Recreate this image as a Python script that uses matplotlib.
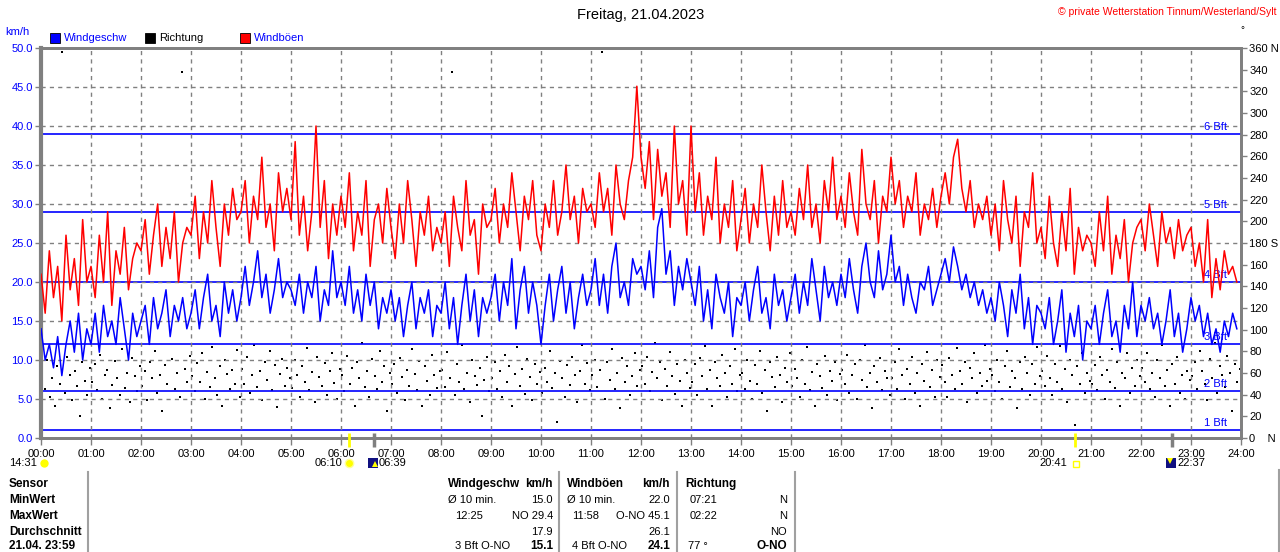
import numpy as np
import matplotlib
matplotlib.use('Agg')
import matplotlib.pyplot as plt
from matplotlib.patches import Rectangle
from matplotlib.lines import Line2D

plt.rcParams['font.family'] = ['Liberation Sans', 'DejaVu Sans']

# ---------------- data ----------------
hour_labels = ["00:00", "01:00", "02:00", "03:00", "04:00", "05:00", "06:00", "07:00",
               "08:00", "09:00", "10:00", "11:00", "12:00", "13:00", "14:00", "15:00",
               "16:00", "17:00", "18:00", "19:00", "20:00", "21:00", "22:00", "23:00", "24:00"]

# wind speed km/h, 5-minute samples, one row per hour
windgeschw = [
    [14, 10, 12, 9, 13, 8, 12, 15, 11, 16, 10, 14],
    [12, 16, 11, 17, 13, 15, 12, 18, 14, 10, 16, 13],
    [15, 17, 12, 18, 14, 16, 19, 13, 17, 15, 18, 14],
    [16, 19, 14, 18, 21, 15, 17, 13, 20, 16, 19, 15],
    [18, 22, 17, 20, 24, 18, 21, 16, 19, 23, 18, 20],
    [19, 17, 21, 16, 20, 18, 22, 15, 19, 17, 24, 18],
    [20, 17, 22, 16, 19, 15, 21, 17, 20, 14, 18, 16],
    [19, 15, 18, 13, 17, 20, 14, 18, 16, 19, 13, 17],
    [16, 20, 14, 18, 12, 17, 21, 15, 19, 13, 18, 16],
    [18, 21, 15, 20, 17, 23, 14, 19, 22, 16, 20, 17],
    [12, 17, 21, 15, 19, 22, 16, 20, 14, 18, 21, 17],
    [19, 23, 17, 21, 16, 22, 25, 18, 20, 17, 23, 21],
    [22, 19, 24, 18, 27, 29.4, 21, 24, 17, 22, 19, 23],
    [20, 17, 22, 15, 19, 14, 21, 18, 16, 20, 13, 18],
    [17, 20, 15, 19, 22, 16, 18, 14, 21, 17, 19, 15],
    [18, 21, 16, 20, 17, 23, 19, 15, 22, 18, 20, 17],
    [21, 18, 23, 19, 16, 22, 25, 20, 18, 24, 19, 21],
    [26, 20, 22, 17, 21, 18, 16, 20, 19, 22, 17, 19],
    [21, 23, 20, 24.5, 22, 19, 21, 18, 20, 17, 19, 16],
    [18, 15, 20, 17, 13, 19, 16, 21, 14, 18, 12, 17],
    [16, 14, 18, 12, 15, 19, 11, 16, 13, 17, 10, 15],
    [14, 17, 12, 16, 19, 13, 15, 11, 17, 14, 20, 13],
    [17, 15, 18, 14, 16, 12, 15, 19, 13, 16, 11, 14],
    [18, 15, 17, 13, 16, 12, 14, 11, 15, 13, 16, 14],
]

# wind gusts km/h, 5-minute samples, one row per hour
windboeen = [
    [21, 16, 24, 18, 22, 15, 26, 19, 23, 17, 28, 20],
    [22, 18, 26, 20, 29, 17, 24, 21, 27, 19, 23, 25],
    [24, 28, 21, 26, 30, 22, 27, 23, 29, 20, 25, 27],
    [26, 31, 23, 29, 25, 33, 27, 22, 30, 26, 32, 28],
    [29, 33, 25, 31, 28, 36, 27, 30, 24, 34, 29, 32],
    [28, 38, 26, 31, 24, 29, 40, 27, 33, 23, 30, 26],
    [31, 27, 34, 24, 29, 26, 33, 22, 28, 30, 25, 32],
    [27, 23, 30, 25, 33, 28, 22, 29, 26, 31, 24, 27],
    [25, 29, 22, 31, 27, 24, 33, 26, 28, 21, 30, 27],
    [28, 32, 25, 30, 27, 34, 29, 24, 31, 28, 33, 26],
    [24, 30, 27, 33, 26, 29, 35, 28, 31, 25, 32, 29],
    [30, 27, 34, 29, 32, 26, 35, 30, 28, 33, 36, 45.1],
    [36, 32, 38, 28, 37, 31, 34, 27, 40, 30, 33, 26],
    [40, 29, 34, 26, 31, 28, 36, 25, 30, 27, 33, 24],
    [28, 32, 25, 30, 27, 35, 29, 24, 31, 26, 33, 27],
    [29, 26, 32, 28, 35, 27, 30, 25, 33, 29, 36, 28],
    [31, 27, 34, 29, 26, 37, 30, 28, 33, 25, 31, 29],
    [36, 30, 33, 27, 31, 29, 34, 26, 30, 28, 32, 27],
    [31, 34, 30, 36, 38.3, 32, 29, 33, 27, 30, 28, 31],
    [26, 30, 24, 33, 28, 25, 31, 22, 29, 27, 34, 25],
    [27, 23, 31, 25, 22, 29, 24, 32, 21, 27, 24, 26],
    [25, 22, 29, 24, 31, 21, 26, 23, 28, 20, 25, 27],
    [28, 24, 30, 26, 22, 29, 25, 27, 23, 28, 24, 26],
    [27, 22, 25, 20, 28, 18, 23, 19, 24, 21, 22, 20],
]

# wind direction in degrees, 3-minute samples, one row per hour
richtung = [
    [60, 45, 72, 38, 55, 30, 66, 50, 356, 42, 75, 58, 35, 62, 48, 20, 70, 53, 40, 65],
    [52, 68, 44, 77, 36, 58, 63, 28, 49, 71, 55, 40, 82, 46, 60, 33, 74, 57, 43, 66],
    [48, 62, 35, 70, 55, 80, 42, 58, 25, 67, 50, 360, 73, 45, 60, 38, 338, 64, 52, 76],
    [57, 43, 69, 52, 78, 36, 61, 47, 84, 55, 40, 66, 30, 72, 59, 45, 63, 50, 81, 38],
    [64, 50, 75, 42, 58, 86, 47, 62, 35, 70, 54, 80, 44, 67, 29, 59, 73, 48, 65, 55],
    [46, 72, 58, 38, 66, 52, 83, 44, 61, 33, 75, 56, 48, 69, 40, 62, 78, 51, 36, 64],
    [58, 43, 76, 50, 65, 30, 70, 55, 88, 47, 62, 38, 73, 57, 45, 80, 52, 66, 25, 60],
    [50, 68, 42, 74, 56, 35, 63, 48, 82, 59, 44, 71, 30, 66, 53, 40, 77, 58, 46, 62],
    [63, 47, 79, 55, 338, 40, 68, 52, 86, 45, 60, 33, 72, 57, 49, 65, 20, 54, 75, 43],
    [55, 70, 45, 62, 38, 77, 52, 66, 30, 59, 84, 48, 64, 41, 73, 56, 35, 68, 50, 61],
    [42, 65, 52, 80, 46, 60, 15, 71, 55, 38, 67, 49, 75, 58, 33, 62, 86, 50, 69, 44],
    [58, 72, 47, 63, 356, 36, 70, 54, 82, 45, 60, 28, 74, 52, 66, 40, 57, 78, 48, 63],
    [66, 50, 75, 43, 61, 88, 55, 70, 35, 64, 48, 79, 57, 41, 68, 53, 30, 72, 60, 46],
    [52, 68, 40, 74, 57, 85, 45, 63, 30, 70, 55, 48, 77, 60, 38, 66, 50, 82, 43, 58],
    [60, 45, 72, 53, 36, 67, 50, 80, 42, 63, 25, 70, 56, 47, 75, 58, 33, 65, 52, 78],
    [48, 64, 55, 38, 72, 50, 84, 44, 61, 30, 68, 57, 46, 76, 40, 62, 53, 70, 35, 59],
    [63, 50, 77, 42, 58, 68, 36, 72, 54, 86, 47, 60, 28, 66, 52, 74, 44, 62, 55, 40],
    [55, 70, 45, 82, 58, 36, 64, 50, 75, 42, 60, 30, 68, 53, 79, 47, 63, 38, 72, 56],
    [67, 52, 38, 74, 58, 45, 83, 62, 50, 70, 33, 65, 55, 78, 42, 60, 48, 86, 53, 64],
    [58, 43, 72, 52, 36, 66, 80, 47, 62, 55, 28, 70, 45, 75, 60, 40, 68, 50, 84, 57],
    [62, 48, 76, 55, 40, 68, 52, 85, 45, 64, 33, 72, 58, 12, 66, 50, 78, 42, 60, 53],
    [50, 67, 44, 75, 58, 36, 63, 52, 82, 46, 70, 30, 60, 55, 78, 42, 65, 48, 72, 57],
    [65, 52, 78, 45, 60, 38, 72, 55, 86, 48, 63, 30, 68, 50, 75, 42, 58, 36, 62, 54],
    [57, 70, 45, 80, 62, 50, 35, 73, 55, 88, 42, 66, 58, 47, 76, 60, 25, 68, 52, 64],
]

bft_values = [1, 6, 12, 20, 29, 39]
bft_labels = ["1 Bft", "2 Bft", "3 Bft", "4 Bft", "5 Bft", "6 Bft"]

left_ticks = [0, 5, 10, 15, 20, 25, 30, 35, 40, 45, 50]
right_ticks = [0, 20, 40, 60, 80, 100, 120, 140, 160, 180, 200, 220, 240, 260, 280, 300, 320, 340, 360]
right_labels = ["0    N", "20", "40", "60", "80", "100", "120", "140", "160", "180 S",
                "200", "220", "240", "260", "280", "300", "320", "340", "360 N"]

sun_events = [("06:10", 6 + 10 / 60, "sunrise"), ("06:39", 6 + 39 / 60, "moonrise"),
              ("20:41", 20 + 41 / 60, "sunset"), ("22:37", 22 + 37 / 60, "moonset")]

table_rows = ["Sensor", "MinWert", "MaxWert", "Durchschnitt", "21.04. 23:59"]

# ---------------- figure ----------------
W, H = 1280, 552
fig = plt.figure(figsize=(W / 100, H / 100), dpi=100)
fig.patch.set_facecolor('white')


def fx(x):
    return x / W


def fy(y):
    return 1 - y / H


ax = fig.add_axes([fx(41), fy(438), 1200 / W, 390 / H])
ax2 = ax.twinx()
ax.set_zorder(ax2.get_zorder() + 1)
ax.patch.set_visible(False)

GRAY = '#808080'

speed = np.array(windgeschw, dtype=float).ravel()
gust = np.array(windboeen, dtype=float).ravel()
direc = np.array(richtung, dtype=float).ravel()
t_line = np.arange(len(speed)) / 12.0
t_dir = np.arange(len(direc)) / 20.0 + 0.02

ax.set_xlim(0, 24)
ax.set_ylim(0, 50)
ax2.set_ylim(0, 360)

# grid
ax.set_xticks(range(25))
ax.set_yticks(left_ticks)
ax.grid(True, color=GRAY, linestyle=(0, (3, 3)), linewidth=1)

# Beaufort lines
for v, lab in zip(bft_values, bft_labels):
    ax.axhline(v, color='#0000ff', linewidth=1.2, zorder=1.5)
    ax.annotate(lab, (23.72, v), xytext=(0, 1.5), textcoords='offset points',
                ha='right', va='bottom', color='#0000ff', fontsize=8, zorder=1.6)

# direction dots
ax2.scatter(t_dir, direc, s=4, marker='s', color='black', linewidths=0, zorder=2)

# lines
ax.plot(t_line, gust, color='#ff0000', linewidth=1.1, zorder=3)
ax.plot(t_line, speed, color='#0000ff', linewidth=1.1, zorder=4)

# spines
for a in (ax, ax2):
    for s in a.spines.values():
        s.set_color(GRAY)
        s.set_linewidth(2)
ax.spines['left'].set_linewidth(3)

ax.set_xticklabels(hour_labels)
ax.set_yticklabels([f"{v:.1f}" for v in left_ticks])
ax.tick_params(axis='x', colors=GRAY, labelcolor='black', labelsize=8, length=5, width=1, pad=3)
ax.tick_params(axis='y', colors=GRAY, labelcolor='#0000ff', labelsize=8, length=4, width=1, pad=2)
ax2.set_yticks(right_ticks)
ax2.set_yticklabels(right_labels)
ax2.tick_params(axis='y', colors=GRAY, labelcolor='black', labelsize=8, length=4, width=1, pad=2)
for lab in ax2.get_yticklabels():
    lab.set_horizontalalignment('left')

# sun / moon markers on time axis
for txt, t, kind in sun_events:
    col = 'yellow' if kind.startswith('sun') else GRAY
    ax.plot([t, t], [0.6, -1.2], color=col, linewidth=2.5 if col == GRAY else 2,
            clip_on=False, zorder=6, solid_capstyle='butt')

# event labels below the axis
fig.text(fx(37), fy(463), "14:31", ha='right', va='center', fontsize=8)
fig.add_artist(Line2D([fx(44)], [fy(463)], marker='o', markersize=6, color='yellow',
                      markeredgewidth=0, transform=fig.transFigure))
fig.text(fx(342), fy(463), "06:10", ha='right', va='center', fontsize=8)
fig.add_artist(Line2D([fx(349)], [fy(463)], marker='o', markersize=6, color='yellow',
                      markeredgecolor='#ffff99', markeredgewidth=1, transform=fig.transFigure))
fig.add_artist(Rectangle((fx(368), fy(468)), 10 / W, 10 / H, facecolor='#101080',
                         edgecolor='none', transform=fig.transFigure))
fig.add_artist(Line2D([fx(375)], [fy(464)], marker='^', markersize=4, color='yellow',
                      markeredgewidth=0, transform=fig.transFigure))
fig.text(fx(379), fy(463), "06:39", ha='left', va='center', fontsize=8)
fig.text(fx(1067), fy(463), "20:41", ha='right', va='center', fontsize=8)
fig.add_artist(Rectangle((fx(1073), fy(467)), 6 / W, 6 / H, facecolor='none',
                         edgecolor='yellow', linewidth=1, transform=fig.transFigure))
fig.add_artist(Rectangle((fx(1166), fy(468)), 10 / W, 10 / H, facecolor='#101080',
                         edgecolor='none', transform=fig.transFigure))
fig.add_artist(Line2D([fx(1170)], [fy(461)], marker='v', markersize=4, color='yellow',
                      markeredgewidth=0, transform=fig.transFigure))
fig.text(fx(1177), fy(463), "22:37", ha='left', va='center', fontsize=8)

# titles
fig.text(fx(641), fy(15), "Freitag, 21.04.2023", ha='center', va='center', fontsize=10.5)
fig.text(fx(1276), fy(12), "\u00a9 private Wetterstation Tinnum/Westerland/Sylt", ha='right',
         va='center', fontsize=7.5, color='red')
fig.text(fx(1242), fy(30), "\u00b0", ha='center', va='center', fontsize=7)
fig.text(fx(5), fy(32), "km/h", ha='left', va='center', fontsize=8, color='#0000ff')

# legend
legend_items = [("Windgeschw", '#0000ff', 50, '#0000ff'), ("Richtung", 'black', 145, 'black'),
                ("Windböen", '#ff0000', 240, '#0000ff')]
for name, col, x0, tcol in legend_items:
    fig.add_artist(Rectangle((fx(x0), fy(43)), 10 / W, 10 / H, facecolor=col,
                             edgecolor='black', linewidth=0.6, transform=fig.transFigure))
    fig.text(fx(x0 + 14), fy(38), name, ha='left', va='center', fontsize=8, color=tcol)

# table
row_y = [484, 500, 516, 532, 546]
for y, lab in zip(row_y, table_rows):
    fig.text(fx(9), fy(y), lab, ha='left', va='center', fontsize=8.5, fontweight='bold')

for xs, y0 in [(88, 472), (559, 472), (677, 472), (795, 472), (1279, 470)]:
    fig.add_artist(Line2D([fx(xs), fx(xs)], [fy(y0), fy(552)], color='#a0a0a0',
                          linewidth=1.5, transform=fig.transFigure))

cells = [
    # (x, row, text, align, bold)
    (448, 0, "Windgeschw", 'left', True), (553, 0, "km/h", 'right', True),
    (448, 1, "\u00d8 10 min.", 'left', False), (553, 1, "15.0", 'right', False),
    (455, 2, "12:25", 'left', False), (553, 2, "NO 29.4", 'right', False),
    (553, 3, "17.9", 'right', False),
    (455, 4, "3 Bft O-NO", 'left', False), (553, 4, "15.1", 'right', True),
    (567, 0, "Windböen", 'left', True), (670, 0, "km/h", 'right', True),
    (567, 1, "\u00d8 10 min.", 'left', False), (670, 1, "22.0", 'right', False),
    (572, 2, "11:58", 'left', False), (670, 2, "O-NO 45.1", 'right', False),
    (670, 3, "26.1", 'right', False),
    (572, 4, "4 Bft O-NO", 'left', False), (670, 4, "24.1", 'right', True),
    (685, 0, "Richtung", 'left', True),
    (690, 1, "07:21", 'left', False), (787, 1, "N", 'right', False),
    (690, 2, "02:22", 'left', False), (787, 2, "N", 'right', False),
    (787, 3, "NO", 'right', False),
    (688, 4, "77 \u00b0", 'left', False), (787, 4, "O-NO", 'right', True),
]
for x, r, txt, al, b in cells:
    fig.text(fx(x), fy(row_y[r]), txt, ha=al, va='center', fontsize=8.5 if b else 8,
             fontweight='bold' if b else 'normal')

fig.savefig('out.png', dpi=100)
